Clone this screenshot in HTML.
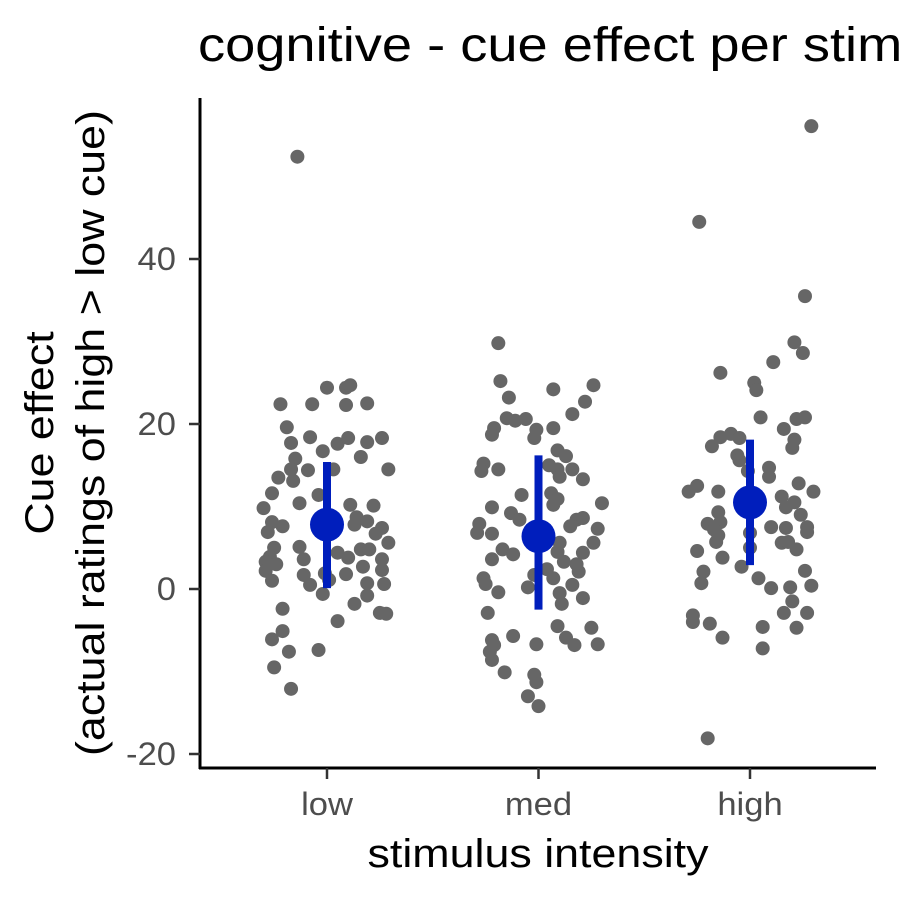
<!DOCTYPE html>
<html><head><meta charset="utf-8"><style>
body{margin:0;background:#fff}
svg{display:block;font-family:"Liberation Sans",Arial,sans-serif}
</style></head><body>
<svg id="chart" width="900" height="900" viewBox="0 0 900 900">
<rect width="900" height="900" fill="#fff"/>
<g transform="translate(198,61) scale(1.13,1)">
<text x="0" y="0" font-size="48" fill="#000">cognitive - cue effect per stimulus intensity</text>
</g>
<g id="plot"></g>
<g transform="translate(538,867) scale(1.12,1)">
<text x="0" y="0" font-size="40" text-anchor="middle" fill="#000">stimulus intensity</text>
</g>
<g transform="translate(0,433) rotate(-90) scale(1.12,1)">
<text x="0" y="53" font-size="40" text-anchor="middle" fill="#000">Cue effect</text>
<text x="0" y="104" font-size="40" text-anchor="middle" fill="#000">(actual ratings of high &gt; low cue)</text>
</g>
</svg>
<script>
const categories = ["low","med","high"];
const yTicks = [-20,0,20,40];
const lowPts = [[0,24.4],[.09,24.4],[.11,24.7],[-.22,22.4],[-.07,22.4],[.09,22.3],[.19,22.5],[-.19,19.6],[-.08,18.4],[-.17,17.7],[-.02,16.7],[.05,17.6],[.10,18.3],[.19,17.8],[.26,18.3],[.16,16.0],[-.15,15.8],[-.17,14.5],[-.09,14.4],[.03,14.5],[.29,14.5],[-.23,13.5],[-.16,13.1],[-.26,11.6],[-.04,11.4],[-.30,9.8],[-.13,10.4],[.11,10.2],[.22,10.1],[-.26,8.1],[-.21,7.6],[-.28,6.9],[.14,8.7],[.19,8.2],[.26,7.4],[.23,6.7],[.13,7.8],[.29,5.6],[-.25,5.0],[-.13,5.1],[.16,4.8],[.20,4.8],[-.27,3.9],[-.11,3.6],[.05,4.4],[.10,3.8],[-.29,3.3],[-.24,3.0],[.26,3.6],[.17,2.7],[-.29,2.2],[.26,2.3],[-.11,1.7],[-.01,1.9],[.09,1.8],[-.26,1.0],[-.08,0.5],[.01,1.1],[.19,0.7],[.27,0.6],[-.02,-0.6],[.19,-0.8],[.13,-1.8],[-.21,-2.4],[.25,-2.9],[.28,-3.0],[.05,-3.9],[-.21,-5.1],[-.26,-6.1],[-.18,-7.6],[-.04,-7.4],[-.25,-9.5],[-.17,-12.1],[-.14,52.4]];
const medPts = [[-.19,29.8],[-.18,25.2],[.07,24.2],[.26,24.7],[-.14,23.2],[.22,22.7],[.16,21.2],[-.15,20.7],[-.11,20.4],[-.06,20.6],[-.21,19.5],[-.22,18.7],[-.01,19.3],[-.02,18.3],[.07,19.5],[.09,16.8],[.13,16.1],[-.26,15.2],[-.27,14.3],[-.19,14.5],[.05,15.0],[.09,14.5],[.10,13.6],[.16,14.5],[.21,13.3],[-.08,11.4],[.06,11.6],[.09,10.9],[.07,10.2],[.30,10.4],[-.22,9.9],[-.13,9.2],[-.09,8.4],[.18,8.4],[.21,8.6],[.15,7.6],[-.28,7.9],[-.29,6.8],[-.22,6.7],[.28,7.3],[.10,5.6],[.26,5.6],[-.17,4.8],[-.12,4.2],[.09,4.5],[.21,4.4],[-.22,3.6],[.12,3.3],[.18,3.0],[.04,2.4],[.07,1.3],[.19,2.1],[-.02,1.7],[-.26,1.3],[-.25,0.6],[-.05,0.2],[-.19,-0.4],[.16,0.5],[.10,-0.5],[.11,-1.8],[.21,-1.1],[-.24,-2.9],[.09,-4.5],[.25,-4.7],[-.12,-5.7],[.13,-5.9],[.17,-6.8],[.28,-6.7],[-.01,-6.7],[-.22,-6.2],[-.21,-6.8],[-.23,-7.6],[-.22,-8.6],[-.16,-10.1],[-.02,-10.4],[-.01,-11.3],[-.05,-13.0],[0,-14.2]];
const highPts = [[.21,29.9],[.25,28.6],[.11,27.5],[-.14,26.2],[.02,25.0],[.03,24.1],[.05,20.8],[.22,20.6],[.26,20.8],[.16,19.4],[.21,18.1],[.20,17.1],[-.14,18.4],[-.09,18.8],[-.05,18.3],[-.18,17.3],[-.06,16.2],[-.05,15.6],[.09,14.7],[.09,13.6],[-.01,14.3],[-.25,12.5],[-.29,11.8],[-.15,11.8],[.23,12.8],[.30,11.8],[.15,11.2],[.21,10.5],[.17,9.9],[-.15,9.3],[.24,9.0],[-.20,7.9],[-.14,8.1],[-.17,7.2],[0,6.8],[.10,7.5],[.17,7.4],[.27,7.5],[.27,6.9],[-.15,6.5],[-.16,5.7],[0,5.0],[.15,5.6],[.18,5.7],[.22,4.8],[-.25,4.6],[-.13,3.8],[-.04,2.7],[-.22,2.1],[-.23,0.7],[.26,2.2],[.04,1.3],[.10,0.1],[.19,0.2],[.29,0.4],[.20,-1.5],[.16,-2.9],[.27,-2.9],[-.27,-3.2],[-.27,-4.0],[-.19,-4.2],[.22,-4.7],[.06,-4.6],[-.13,-5.9],[.06,-7.2],[-.24,44.5],[.29,56.1],[.26,35.5],[-.20,-18.1]];
const means = [7.8, 6.4, 10.5];
const lowerCI = [0.1, -2.5, 2.9];
const upperCI = [15.4, 16.2, 18.1];

const NS="http://www.w3.org/2000/svg";
const g=document.getElementById('plot');
function yScale(v){return 589 - v*8.25;}
function xScale(i,j){return 327 + (i + (j||0))*211.5;}
function mk(tag,attrs,parent){const e=document.createElementNS(NS,tag);for(const k in attrs)e.setAttribute(k,attrs[k]);(parent||g).appendChild(e);return e;}

let a=mk('line',{x1:200,y1:98,x2:200,y2:769,stroke:'#000','stroke-width':3});


a=mk('line',{x1:199,y1:768,x2:876,y2:768,stroke:'#000','stroke-width':3});


yTicks.forEach(t=>{
  const y=yScale(t);
  const l=mk('line',{x1:189,y1:y,x2:200,y2:y,stroke:'#333','stroke-width':2.5});
  
  
  const tx=mk('text',{x:176,y:y+11,'font-size':32,'text-anchor':'end',fill:'#4d4d4d',transform:'translate(176,0) scale(1.08,1) translate(-176,0)'});
  tx.textContent=t;
  
  
});
categories.forEach((c,i)=>{
  const x=xScale(i);
  const l=mk('line',{x1:x,y1:768,x2:x,y2:779,stroke:'#333','stroke-width':2.5});
  
  
  const tx=mk('text',{x:x,y:815,'font-size':32,'text-anchor':'middle',fill:'#4d4d4d',transform:'translate('+x+',0) scale(1.08,1) translate('+(-x)+',0)'});
  tx.textContent=c;
  
  
});
[lowPts,medPts,highPts].forEach((pts,i)=>{
  pts.forEach(p=>{
    const c=mk('circle',{cx:xScale(i,p[0]),cy:yScale(p[1]),r:7,fill:'#666666'});
    
    
  });
});
means.forEach((m,i)=>{
  const x=xScale(i);
  const b=mk('line',{x1:x,y1:yScale(lowerCI[i]),x2:x,y2:yScale(upperCI[i]),stroke:'#001ebc','stroke-width':8});
  
  
  const c=mk('circle',{cx:x,cy:yScale(m),r:17,fill:'#001ebc'});
  
  
});
</script>
</body></html>
